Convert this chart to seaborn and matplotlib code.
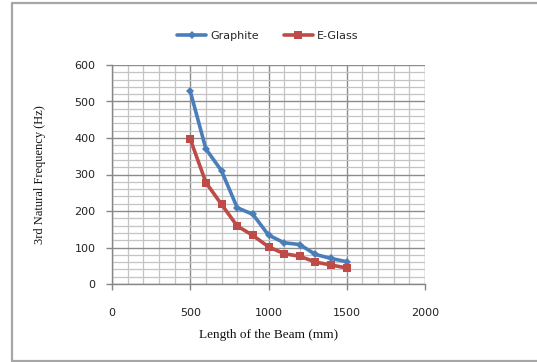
import matplotlib
matplotlib.use("Agg")
import matplotlib.pyplot as plt
import seaborn as sns
import pandas as pd
from matplotlib.lines import Line2D
from matplotlib.ticker import MultipleLocator

length_mm = [500, 600, 700, 800, 900, 1000, 1100, 1200, 1300, 1400, 1500]
graphite = [528, 370, 310, 209, 191, 134, 113, 108, 81, 70, 61]
eglass = [397, 278, 218, 159, 133, 102, 83, 76, 60, 52, 44]
series_names = ["Graphite", "E-Glass"]
x_ticks = [0, 500, 1000, 1500, 2000]
y_ticks = [0, 100, 200, 300, 400, 500, 600]

sns.set_theme(style="white")
plt.rcParams["font.family"] = ["DejaVu Sans"]

df = pd.concat([
    pd.DataFrame({"Length": length_mm, "Freq": graphite, "Material": series_names[0]}),
    pd.DataFrame({"Length": length_mm, "Freq": eglass, "Material": series_names[1]}),
])

fig = plt.figure(figsize=(5.37, 3.62), dpi=100)
ax = fig.add_axes([112/537, 1-284/362, 313/537, 219/362])

blue = "#4A7EBB"
red = "#BE4B48"
sns.lineplot(data=df, x="Length", y="Freq", hue="Material", style="Material",
             palette={"Graphite": blue, "E-Glass": red},
             markers={"Graphite": "D", "E-Glass": "s"}, dashes=False,
             markersize=5, linewidth=2.6, ax=ax, legend=False, zorder=5)
for line, ms in zip(ax.lines, [4, 6]):
    line.set_markersize(ms)
    line.set_markeredgewidth(0)

ax.set_xlim(0, 2000)
ax.set_ylim(0, 600)
ax.set_xticks(x_ticks)
ax.set_yticks(y_ticks)
ax.xaxis.set_minor_locator(MultipleLocator(100))
ax.yaxis.set_minor_locator(MultipleLocator(20))
ax.grid(True, which="major", color="#8C8C8C", linewidth=1.0, zorder=0)
ax.grid(True, which="minor", color="#C4C4C4", linewidth=0.9, zorder=0)
ax.set_axisbelow(True)
for s in ["top", "right"]:
    ax.spines[s].set_visible(False)
for s in ["left", "bottom"]:
    ax.spines[s].set_color("#868686")
    ax.spines[s].set_linewidth(1.0)
ax.tick_params(axis="both", which="major", direction="out", length=4, width=1,
               color="#868686", labelsize=8, labelcolor="#222222", pad=4,
               left=True, bottom=True)
ax.tick_params(axis="x", pad=13)
ax.tick_params(axis="y", pad=8)
ax.tick_params(which="minor", length=0)

ax.set_xlabel("Length of the Beam (mm)", family="Liberation Serif", fontsize=9.5,
              color="#111111", labelpad=8)
ax.set_ylabel("3rd Natural Frequency (Hz)", family="Liberation Serif", fontsize=9,
              color="#111111", labelpad=20)

handles = [Line2D([], [], color=blue, marker="D", markersize=4, lw=2.6, markeredgewidth=0),
           Line2D([], [], color=red, marker="s", markersize=6, lw=2.6, markeredgewidth=0)]
fig.legend(handles, series_names, loc="center", bbox_to_anchor=(268/537, 1-36/362),
           ncol=2, frameon=False, fontsize=8, handlelength=2.6, columnspacing=2.2,
           handletextpad=0.4)

# outer chart frame
fc = "#A6A6A6"
fig.add_artist(Line2D([11.5/537, 11.5/537], [1-3/362, 1-361/362], transform=fig.transFigure, color=fc, lw=1.6))
fig.add_artist(Line2D([11.5/537, 1.0], [1-3/362, 1-3/362], transform=fig.transFigure, color=fc, lw=1.6))
fig.add_artist(Line2D([11.5/537, 1.0], [1-361/362, 1-361/362], transform=fig.transFigure, color=fc, lw=1.6))

fig.savefig("out.png", dpi=100)
